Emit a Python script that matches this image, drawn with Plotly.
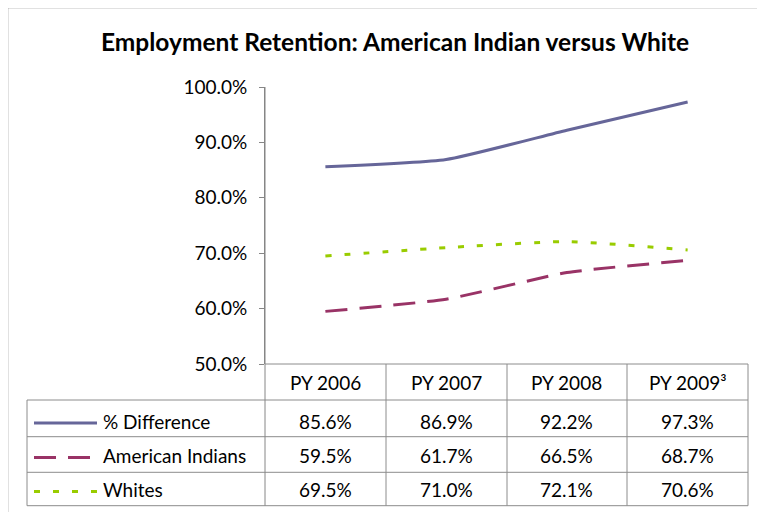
import plotly.graph_objects as go

# ---- data ----
categories = ["PY 2006", "PY 2007", "PY 2008", "PY 2009³"]
series_names = ["% Difference", "American Indians", "Whites"]
pct_difference = [85.6, 86.9, 92.2, 97.3]
american_indians = [59.5, 61.7, 66.5, 68.7]
whites = [69.5, 71.0, 72.1, 70.6]
y_ticks = [0.5, 0.6, 0.7, 0.8, 0.9, 1.0]
title_text = "Employment Retention: American Indian versus White"

# ---- styles ----
colors = ["#666699", "#993366", "#99CC00"]
dashes = ["solid", "22px,12px", "6px,13px"]
FONT = "Lato"
GRID = "#8C8C8C"

OFF = 8                                  # page body margin
W, H = 765, 512
L, R, T, B = 265, 748, 87, 364          # plot area in window pixels
table_left = 27
row_lines = [400, 436.7, 472.3, 505.7]
col_lines = [386, 507, 627]
header_mid = 382
row_mids = [421, 455.5, 489]
sample_x = (34, 97)
sample_y = [423, 457.5, 491.5]


def px(x):
    return (x - L) / (R - L)


def py(y):
    return (B - y) / (B - T)


all_series = [pct_difference, american_indians, whites]

fig = go.Figure()
for name, vals, c, d in zip(series_names, all_series, colors, dashes):
    fig.add_trace(go.Scatter(
        x=categories, y=[v / 100 for v in vals], name=name, mode="lines",
        line=dict(color=c, width=3, dash=d, shape="spline", smoothing=0.5),
        showlegend=False, hoverinfo="skip"))

shapes = []


def hline(y, x0, x1, color=GRID, width=1):
    shapes.append(dict(type="line", xref="paper", yref="paper",
                       x0=px(x0), x1=px(x1), y0=py(y), y1=py(y),
                       line=dict(color=color, width=width)))


def vline(x, y0, y1, color=GRID, width=1):
    shapes.append(dict(type="line", xref="paper", yref="paper",
                       x0=px(x), x1=px(x), y0=py(y0), y1=py(y1),
                       line=dict(color=color, width=width)))


# outer chart border (left & top visible)
hline(7.5, 7.5, 780, color="#868686", width=1.5)
vline(7.5, 7.5, 530, color="#868686", width=1.5)

# data table grid
hline(B, L, R)
for y in row_lines:
    hline(y, table_left, R)
vline(table_left, row_lines[0], row_lines[-1])
vline(L, T, row_lines[-1], color="#868686")
for x in col_lines:
    vline(x, B, row_lines[-1])
vline(R, B, row_lines[-1])

# legend keys
for sy, c, d in zip(sample_y, colors, dashes):
    shapes.append(dict(type="line", xref="paper", yref="paper",
                       x0=px(sample_x[0]), x1=px(sample_x[1]),
                       y0=py(sy), y1=py(sy),
                       line=dict(color=c, width=3, dash=d)))

annotations = []
annotations.append(dict(text=f"<b>{title_text}</b>", xref="paper", yref="paper",
                        x=px(395), y=py(41), showarrow=False,
                        xanchor="center", yanchor="middle",
                        font=dict(family=FONT, size=24.5, color="#000000")))

for cat in categories:
    annotations.append(dict(text=cat, xref="x", yref="paper", x=cat,
                            y=py(header_mid), showarrow=False,
                            xanchor="center", yanchor="middle",
                            font=dict(family=FONT, size=19, color="#000000")))

for name, vals, ym in zip(series_names, all_series, row_mids):
    annotations.append(dict(text=name, xref="paper", yref="paper",
                            x=px(101), y=py(ym), showarrow=False,
                            xanchor="left", yanchor="middle",
                            font=dict(family=FONT, size=19, color="#000000")))
    for cat, v in zip(categories, vals):
        annotations.append(dict(text=f"{v:.1f}%", xref="x", yref="paper",
                                x=cat, y=py(ym), showarrow=False,
                                xanchor="center", yanchor="middle",
                                font=dict(family=FONT, size=19, color="#000000")))

fig.update_layout(
    width=W - OFF, height=H - OFF,
    margin=dict(l=L - OFF, r=W - R, t=T - OFF, b=H - B, pad=0),
    paper_bgcolor="white", plot_bgcolor="white",
    shapes=shapes, annotations=annotations,
    xaxis=dict(type="category", range=[-0.5, 3.5], showticklabels=False,
               ticks="", showgrid=False, zeroline=False, showline=False),
    yaxis=dict(range=[0.5, 1.0], tickvals=y_ticks, tickformat=".1%",
               showgrid=False, zeroline=False, showline=True,
               linecolor="#868686", linewidth=1, ticks="outside",
               ticklen=5, tickcolor="#868686", ticklabelstandoff=8,
               tickfont=dict(family=FONT, size=19, color="#000000")),
    font=dict(family=FONT),
)

fig.write_html("out.html")
